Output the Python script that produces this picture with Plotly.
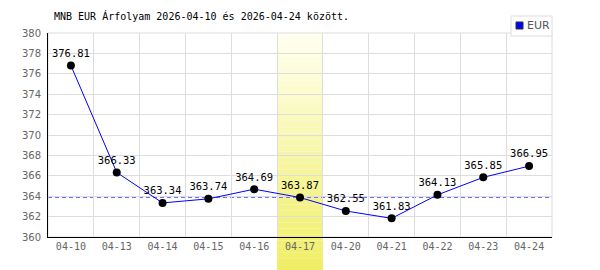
import plotly.graph_objects as go

dates = ["04-10", "04-13", "04-14", "04-15", "04-16", "04-17", "04-20", "04-21", "04-22", "04-23", "04-24"]
eur = [376.81, 366.33, 363.34, 363.74, 364.69, 363.87, 362.55, 361.83, 364.13, 365.85, 366.95]
highlight_date = "04-17"
ref_value = 363.87
series_name = "EUR"
title_text = "MNB EUR Árfolyam 2026-04-10 és 2026-04-24 között."

fig = go.Figure()

fig.add_trace(go.Scatter(
    x=dates, y=eur, mode="lines+markers+text", name=series_name,
    line=dict(color="#0000ff", width=1),
    marker=dict(color="#000000", size=8),
    text=[f"{v:.2f}" for v in eur], textposition="top center",
    textfont=dict(family="DejaVu Sans Mono", size=10.5, color="#000000"),
    showlegend=False, cliponaxis=False,
))

# gradient highlight for selected date
idx = dates.index(highlight_date)
n = 40
ybot = -33 / 204
for i in range(n):
    t = i / (n - 1)
    r = round(255 + (240 - 255) * t)
    g = round(255 + (238 - 255) * t)
    b = round(240 + (100 - 240) * t)
    y1 = 1 - (1 - ybot) * i / n
    y0 = 1 - (1 - ybot) * (i + 1) / n
    fig.add_shape(type="rect", xref="x", yref="paper", x0=idx - 0.5, x1=idx + 0.5,
                  y0=y0, y1=y1, fillcolor=f"rgb({r},{g},{b})", line=dict(width=0),
                  layer="between")

fig.add_shape(type="line", xref="paper", yref="y", x0=0, x1=1, y0=ref_value, y1=ref_value,
              line=dict(color="#6f6fff", width=1, dash="4px,3px"), layer="between")
fig.add_shape(type="rect", xref="paper", yref="paper", x0=0, x1=1, y0=0, y1=1,
              line=dict(color="#dddddd", width=1), layer="below")

# legend box (manual, compact)
fig.add_shape(type="rect", xref="paper", yref="paper", x0=0.9187, x1=1.0, y0=0.985, y1=1.0833,
              line=dict(color="#dddddd", width=1), fillcolor="white", layer="above")
fig.add_shape(type="rect", xref="paper", yref="paper", x0=0.9286, x1=0.9425, y0=1.0196, y1=1.054,
              line=dict(color="#333333", width=1), fillcolor="#0000ff", layer="above")
fig.add_annotation(text=series_name, xref="paper", yref="paper", x=0.9465, y=1.036,
                   xanchor="left", yanchor="middle", showarrow=False,
                   font=dict(family="DejaVu Sans", size=11, color="#555555"))

fig.add_annotation(text=title_text, xref="paper", yref="paper", x=0, y=1, xanchor="left",
                   yanchor="bottom", xshift=4, yshift=9, showarrow=False,
                   font=dict(family="DejaVu Sans Mono", size=10, color="#000000"))

fig.update_layout(
    width=600, height=270,
    margin=dict(l=48, r=48, t=33, b=33),
    paper_bgcolor="white", plot_bgcolor="white",
    showlegend=False,
    xaxis=dict(type="category", categoryorder="array", categoryarray=dates,
               tickson="boundaries", showgrid=True, gridcolor="#dddddd",
               showline=True, linecolor="#000000", linewidth=1, ticks="",
               tickfont=dict(family="DejaVu Sans Mono", size=10, color="#666666"),
               range=[-0.5, len(dates) - 0.5], zeroline=False),
    yaxis=dict(range=[360, 380], dtick=2, showgrid=True, gridcolor="#dddddd",
               showline=True, linecolor="#000000", linewidth=1, ticks="",
               tickfont=dict(family="DejaVu Sans", size=10, color="#666666"),
               zeroline=False, ticklabelstandoff=4),
)

fig.write_html("out.html")
